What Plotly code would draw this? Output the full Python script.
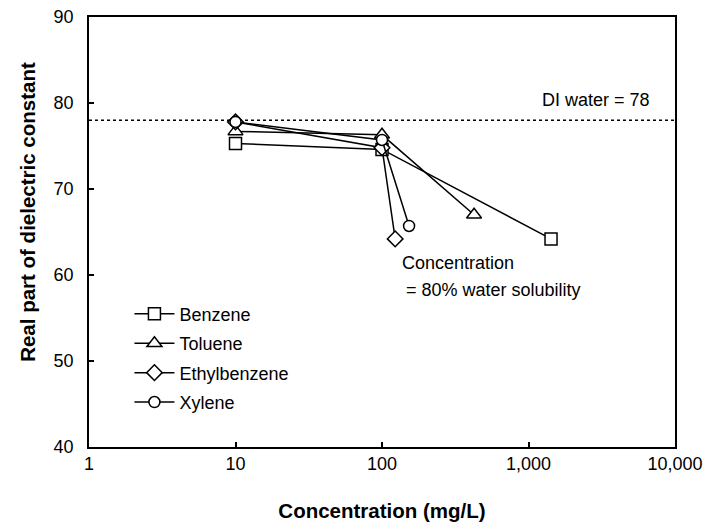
import plotly.graph_objects as go

# Data
series_names = ["Benzene", "Toluene", "Ethylbenzene", "Xylene"]
benzene_x = [10, 100, 1425]
benzene_y = [75.3, 74.6, 64.2]
toluene_x = [10, 100, 425]
toluene_y = [76.7, 76.3, 67.0]
ethylbenzene_x = [10, 100, 123]
ethylbenzene_y = [77.8, 74.8, 64.2]
xylene_x = [10, 100, 153]
xylene_y = [77.8, 75.7, 65.7]
symbols = ["square", "triangle-up", "diamond", "circle"]
di_water = 78

x_tickvals = [1, 10, 100, 1000, 10000]
x_ticktext = ["1", "10", "100", "1,000", "10,000"]
y_tickvals = [40, 50, 60, 70, 80, 90]

FONT = "Liberation Sans, Arial, sans-serif"
FS = 18

fig = go.Figure()

# DI water reference line
fig.add_trace(go.Scatter(x=[1, 10000], y=[di_water, di_water], mode="lines",
                         line=dict(color="black", width=1.5, dash="3px,3px"),
                         showlegend=False, hoverinfo="skip"))

xs = [benzene_x, toluene_x, ethylbenzene_x, xylene_x]
ys = [benzene_y, toluene_y, ethylbenzene_y, xylene_y]
sizes = [12, 13, 12, 11]
for name, x, y, sym, sz in zip(series_names, xs, ys, symbols, sizes):
    fig.add_trace(go.Scatter(
        x=x, y=y, mode="lines+markers", name=name, legendgroup=name,
        line=dict(color="black", width=1.5),
        marker=dict(symbol=sym, size=sz, color="white",
                    line=dict(color="black", width=1.5)),
    ))

fig.add_annotation(x=0.961, y=0.807, xref="paper", yref="paper", text="DI water = 78",
                   showarrow=False, xanchor="right", yanchor="middle",
                   font=dict(family=FONT, size=FS, color="black"))
fig.add_annotation(x=0.531, y=0.428, xref="paper", yref="paper",
                   text="Concentration",
                   showarrow=False, xanchor="left", yanchor="middle",
                   font=dict(family=FONT, size=FS, color="black"))
fig.add_annotation(x=0.538, y=0.365, xref="paper", yref="paper",
                   text="= 80% water solubility",
                   showarrow=False, xanchor="left", yanchor="middle",
                   font=dict(family=FONT, size=FS, color="black"))
# y-axis title (placed as in the reference, slightly above centre)
fig.add_annotation(x=-0.104, y=0.547, xref="paper", yref="paper",
                   text="<b>Real part of dielectric constant</b>", textangle=-90,
                   showarrow=False, xanchor="center", yanchor="middle",
                   font=dict(family=FONT, size=20.5, color="black"))

fig.update_layout(
    width=704, height=532,
    margin=dict(l=89, r=29, t=17, b=85),
    paper_bgcolor="white", plot_bgcolor="white",
    font=dict(family=FONT, size=FS, color="black"),
    showlegend=True,
    legend=dict(x=0.069, y=0.352, xanchor="left", yanchor="top",
                bgcolor="rgba(0,0,0,0)", font=dict(family=FONT, size=FS),
                tracegroupgap=3, itemwidth=40),
    xaxis=dict(type="log", range=[0, 4], tickvals=x_tickvals, ticktext=x_ticktext,
               ticks="inside", ticklen=5, tickwidth=1.5, tickcolor="black",
               showline=True, linecolor="black", linewidth=1.5, mirror=True,
               showgrid=False, zeroline=False, automargin=False,
               title=dict(text="<b>Concentration (mg/L)</b>", font=dict(size=20.5), standoff=30),
               tickfont=dict(size=FS)),
    yaxis=dict(range=[40, 90], tickvals=y_tickvals,
               ticks="inside", ticklen=5, tickwidth=1.5, tickcolor="black",
               showline=True, linecolor="black", linewidth=1.5, mirror=True,
               showgrid=False, zeroline=False, automargin=False,
               tickfont=dict(size=FS), ticklabelstandoff=10),
)

fig.write_html("out.html")
